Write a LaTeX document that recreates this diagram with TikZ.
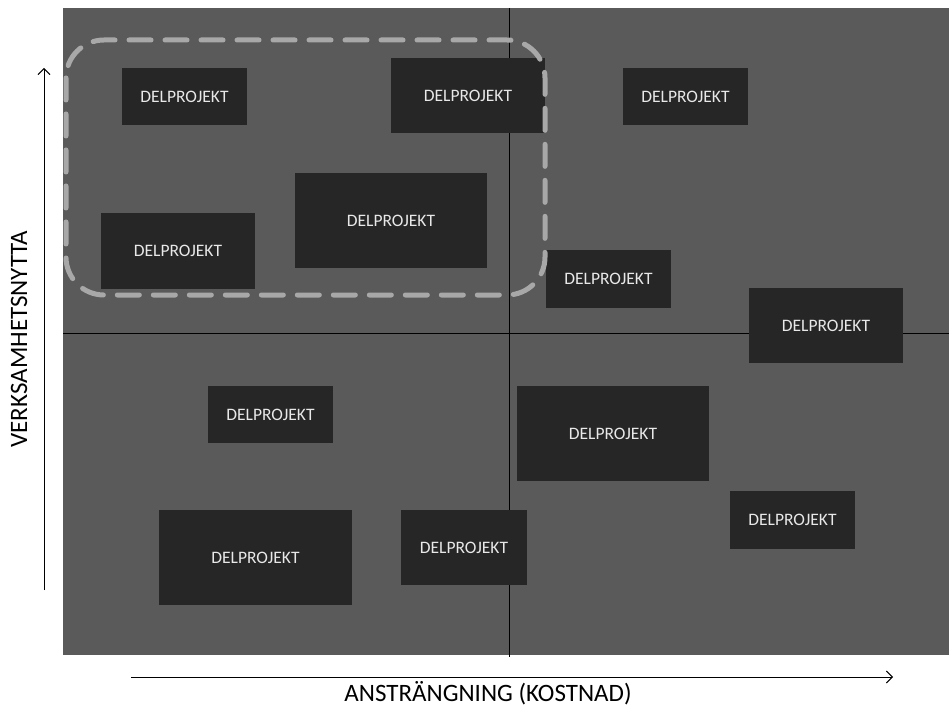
\documentclass[tikz,border=0pt]{standalone}
\usepackage{fontspec}
\setmainfont{Carlito}
\usetikzlibrary{arrows.meta}
\definecolor{bg}{HTML}{5A5A5A}
\definecolor{boxc}{HTML}{262626}
\definecolor{txtc}{HTML}{E8E8E8}
\definecolor{dashc}{HTML}{A8A8A8}
\tikzset{
  dp/.style={fill=boxc, draw=none, inner sep=0pt, font=\fontsize{17.5}{17.5}\selectfont, text=txtc},
  axisline/.style={black, line width=0.9pt, -{Straight Barb[length=6pt,width=12pt]}},
  axislabel/.style={font=\fontsize{25}{25}\selectfont, text=black},
}
\begin{document}
\begin{tikzpicture}[x=1pt,y=-1pt]
\useasboundingbox (0,0) rectangle (949,708);
\fill[bg] (63,8) rectangle (949,655);
\coordinate (vt) at (509,8);
\coordinate (vb) at (509,657);
\coordinate (hl) at (63,333);
\coordinate (hr) at (949,333);
\draw[black, line width=1pt] (vt) -- (vb);
\draw[black, line width=1pt] (hl) -- (hr);
% boxes
\node[dp, minimum width=125pt, minimum height=57pt] (b1) at (184.5,96.5) {DELPROJEKT};
\node[dp, minimum width=154pt, minimum height=75pt] (b2) at (468,95.5) {DELPROJEKT};
\node[dp, minimum width=125pt, minimum height=57pt] (b3) at (685.5,96.5) {DELPROJEKT};
\node[dp, minimum width=192pt, minimum height=95pt] (b4) at (391,220.5) {DELPROJEKT};
\node[dp, minimum width=154pt, minimum height=76pt] (b5) at (178,251) {DELPROJEKT};
\node[dp, minimum width=125pt, minimum height=58pt] (b6) at (608.5,279) {DELPROJEKT};
\node[dp, minimum width=154pt, minimum height=75pt] (b7) at (826,325.5) {DELPROJEKT};
\node[dp, minimum width=125pt, minimum height=57pt] (b8) at (270.5,414.5) {DELPROJEKT};
\node[dp, minimum width=192pt, minimum height=95pt] (b9) at (613,433.5) {DELPROJEKT};
\node[dp, minimum width=125pt, minimum height=58pt] (b10) at (792.5,520) {DELPROJEKT};
\node[dp, minimum width=193pt, minimum height=95pt] (b11) at (255.5,557.5) {DELPROJEKT};
\node[dp, minimum width=126pt, minimum height=75pt] (b12) at (464,547.5) {DELPROJEKT};
% dashed group
\draw[dashc, line width=5pt, line cap=round, dash pattern=on 22pt off 14pt, rounded corners=38pt]
  (66,40) rectangle (545,295);
% axes
\coordinate (ys) at (44,590);
\coordinate (ye) at (44,68);
\coordinate (xs) at (131,677);
\coordinate (xe) at (893,677);
\draw[axisline] (ys) -- (ye);
\draw[axisline] (xs) -- (xe);
\node[axislabel, rotate=90] (ylab) at (19,339) {VERKSAMHETSNYTTA};
\node[axislabel] (xlab) at (488,693) {ANSTRÄNGNING (KOSTNAD)};
\end{tikzpicture}
\end{document}
